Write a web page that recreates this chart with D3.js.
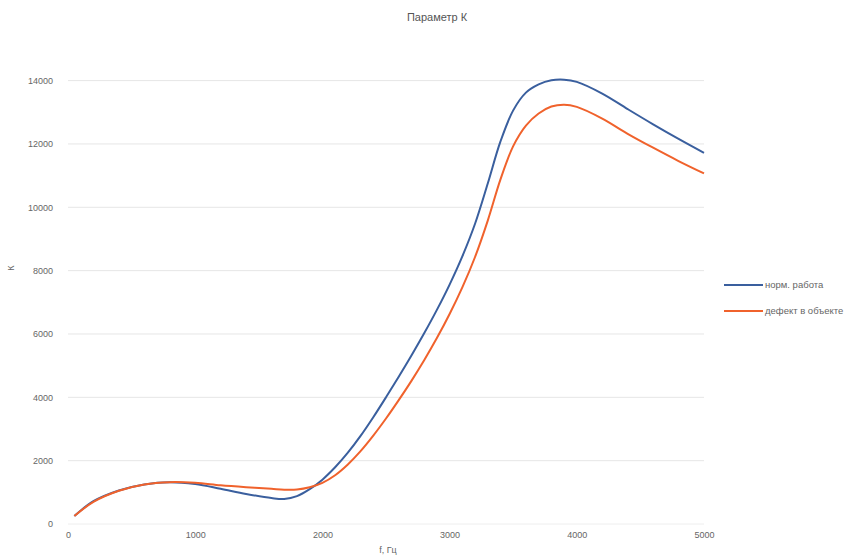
<!DOCTYPE html>
<html><head><meta charset="utf-8">
<script src="https://cdn.jsdelivr.net/npm/d3@7"></script>
<style>body{margin:0;background:#fff}svg{display:block}text{font-family:"Liberation Sans",Arial,sans-serif}</style>
</head><body><svg id="c" width="850" height="556"></svg>
<script>
const freq = [50,200,400,600,800,1000,1200,1400,1600,1700,1800,1900,2000,2100,2200,2300,2400,2500,2600,2700,2800,2900,3000,3100,3200,3300,3400,3500,3600,3700,3800,3900,4000,4200,4400,4600,4800,5000];
const normal = [250,720,1060,1250,1320,1260,1110,950,820,790,880,1100,1400,1790,2250,2780,3370,4000,4650,5320,6020,6760,7560,8450,9480,10750,12080,13060,13620,13880,14010,14030,13960,13590,13100,12620,12160,11720];
const defect = [250,700,1050,1250,1320,1300,1220,1160,1110,1085,1090,1160,1300,1540,1880,2300,2790,3330,3910,4520,5170,5870,6630,7470,8430,9580,10880,11930,12580,12960,13180,13240,13170,12800,12320,11880,11460,11070];
const seriesNames = ["норм. работа","дефект в объекте"];
const colors = ["#3a5f9e","#f0622c"];
const xTicks = [0,1000,2000,3000,4000,5000];
const yTicks = [0,2000,4000,6000,8000,10000,12000,14000];
const title = "Параметр К", xTitle = "f, Гц", yTitle = "К";

const svg = d3.select("#c");
const x = d3.scaleLinear().domain([0,5000]).range([68,704]);
const y = d3.scaleLinear().domain([0,14000]).range([524,80.6]);

svg.append("g").selectAll("line").data(yTicks.filter(d=>d>0)).join("line")
  .attr("x1",68).attr("x2",704).attr("y1",d=>y(d)).attr("y2",d=>y(d))
  .attr("stroke","#e6e6e6").attr("stroke-width",1);
svg.append("line").attr("x1",68).attr("x2",704).attr("y1",y(0)).attr("y2",y(0)).attr("stroke","#eeeeee");

const ya = svg.append("g").attr("transform","translate(68,0)")
  .call(d3.axisLeft(y).tickValues(yTicks).tickSize(0).tickPadding(15).tickFormat(d3.format("d")));
ya.select(".domain").remove();
ya.selectAll("text").attr("fill","#666").style("font-size","9px");

const xa = svg.append("g").attr("transform","translate(0,530)")
  .call(d3.axisBottom(x).tickValues(xTicks).tickSize(0).tickPadding(2).tickFormat(d3.format("d")));
xa.select(".domain").remove();
xa.selectAll("text").attr("fill","#666").style("font-size","9px");

const line = d3.line().x(d=>x(d[0])).y(d=>y(d[1])).curve(d3.curveCatmullRom.alpha(0.5));
[normal, defect].forEach((vals,i)=>{
  svg.append("path").datum(freq.map((f,j)=>[f,vals[j]]))
    .attr("d",line).attr("fill","none").attr("stroke",colors[i]).attr("stroke-width",2);
});

svg.append("text").attr("x",437).attr("y",21).attr("text-anchor","middle").attr("fill","#555").style("font-size","11px").text(title);
svg.append("text").attr("x",388).attr("y",553).attr("text-anchor","middle").attr("fill","#666").style("font-size","9px").text(xTitle);
svg.append("text").attr("transform","translate(14,268) rotate(-90)").attr("text-anchor","middle").attr("fill","#666").style("font-size","9px").text(yTitle);

const lg = svg.append("g");
seriesNames.forEach((n,i)=>{
  const yy = 285 + i*26;
  lg.append("line").attr("x1",724).attr("x2",763).attr("y1",yy).attr("y2",yy).attr("stroke",colors[i]).attr("stroke-width",2);
  lg.append("text").attr("x",765).attr("y",yy+3).attr("fill","#666").style("font-size","9.5px").text(n);
});
</script></body></html>
